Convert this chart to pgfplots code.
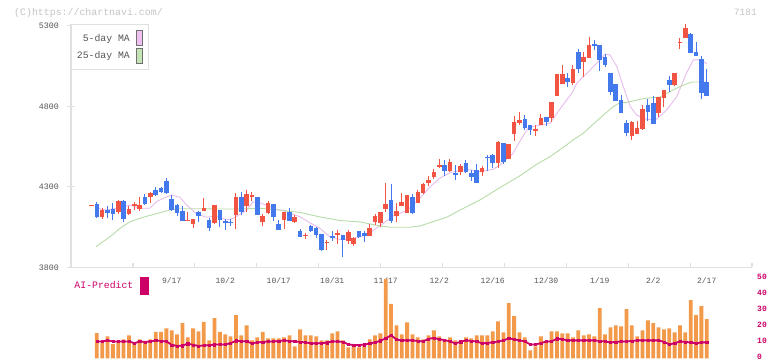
\documentclass[border=0pt]{standalone}
\usepackage{pgfplots}
\pgfplotsset{compat=1.18}
\usepackage{pgfplotstable}
\usepackage{fontspec}
\setmainfont{Liberation Mono}

\definecolor{cRed}{HTML}{F25443}
\definecolor{cBlue}{HTML}{4479EE}
\definecolor{cOrange}{HTML}{F2994A}
\definecolor{cMag}{HTML}{CC0066}
\definecolor{cPink}{HTML}{E8BCEE}
\definecolor{cPinkFill}{HTML}{F0C0F0}
\definecolor{cGreen}{HTML}{B8DCA8}
\definecolor{cGreenFill}{HTML}{C4E4B4}
\definecolor{cAxis}{HTML}{E0E0E0}
\definecolor{cText}{HTML}{555555}
\definecolor{cLight}{HTML}{C4C4C4}
\definecolor{cSwBorder}{HTML}{707070}

% up candles (close >= open)
\pgfplotstableread{
i o h l c
0 4184 4190 4184 4190
2 4115 4170 4100 4155
5 4145 4220 4135 4215
7 4130 4180 4128 4165
8 4180 4205 4155 4195
9 4165 4240 4150 4190
11 4235 4270 4200 4265
18 4092 4145 4090 4098
19 4070 4100 4045 4100
21 4150 4230 4150 4170
23 4075 4190 4070 4190
27 4125 4265 4040 4240
29 4180 4280 4145 4255
30 4240 4270 4215 4250
32 4085 4130 4060 4120
33 4140 4215 4130 4200
36 4095 4145 4040 4145
38 4085 4125 4075 4115
40 3997 4015 3980 4003
44 3955 3970 3910 3961
46 4000 4035 3945 4015
48 3965 4035 3945 4020
49 3945 3990 3935 3985
52 3995 4070 3995 4045
53 4085 4130 4065 4120
54 4075 4145 4050 4145
55 4165 4325 4145 4195
57 4120 4200 4085 4150
58 4180 4265 4180 4205
59 4140 4250 4140 4250
61 4200 4280 4200 4270
62 4265 4325 4255 4320
63 4325 4370 4305 4345
64 4360 4410 4350 4395
65 4425 4475 4420 4435
67 4400 4475 4395 4455
69 4395 4445 4375 4430
73 4395 4430 4370 4420
76 4450 4585 4420 4580
78 4475 4565 4475 4565
79 4630 4740 4585 4705
80 4695 4765 4685 4715
83 4651 4685 4615 4657
84 4685 4755 4685 4730
86 4730 4830 4705 4830
87 4865 5000 4865 5000
88 4940 5060 4940 5000
90 4945 5060 4935 5035
92 5075 5140 4985 5105
93 5100 5230 5100 5180
101 4615 4710 4590 4705
102 4630 4710 4630 4665
103 4660 4810 4655 4785
106 4760 4860 4735 4860
107 4855 4900 4795 4900
109 4935 5010 4925 5010
110 5197 5225 5155 5203
111 5225 5310 5225 5290
}\redtab

% down candles (close < open)
\pgfplotstableread{
i o h l c
1 4195 4205 4105 4115
3 4155 4180 4105 4140
4 4165 4200 4095 4130
6 4215 4220 4085 4100
10 4240 4255 4190 4195
12 4280 4300 4245 4250
13 4295 4300 4265 4270
14 4335 4355 4255 4265
15 4225 4250 4150 4155
16 4190 4195 4120 4140
17 4150 4180 4090 4090
20 4145 4150 4085 4120
22 4095 4105 4025 4045
24 4155 4155 4050 4095
25 4090 4100 4035 4075
26 4085 4100 4060 4075
28 4240 4270 4125 4145
31 4240 4240 4125 4125
34 4195 4195 4090 4115
35 4070 4095 4035 4035
37 4145 4170 4090 4090
39 4025 4040 3990 3990
41 4060 4065 4020 4025
42 4045 4050 3985 4000
43 4010 4010 3905 3910
45 3995 4025 3965 3985
47 4000 4000 3865 3970
50 4025 4025 3985 3990
51 4015 4025 3960 3995
56 4220 4320 4075 4090
60 4240 4255 4130 4140
66 4435 4470 4370 4400
68 4385 4435 4345 4375
70 4450 4470 4385 4395
71 4385 4405 4335 4360
72 4405 4445 4325 4325
74 4488 4500 4400 4482
75 4500 4505 4420 4450
77 4575 4575 4445 4455
81 4720 4745 4655 4665
82 4685 4685 4625 4655
85 4735 4735 4680 4705
89 4975 5010 4920 4950
91 5140 5155 5010 5035
94 5185 5215 5150 5179
95 5180 5180 5020 5090
96 5105 5125 5045 5060
97 5010 5010 4870 4890
98 4940 4940 4835 4835
99 4840 4870 4760 4760
100 4695 4715 4615 4635
104 4810 4845 4710 4765
105 4820 4865 4690 4690
108 4965 4990 4890 4935
112 5250 5255 5130 5130
113 5140 5200 5115 5115
114 5095 5115 4845 4885
115 4950 5035 4865 4865
}\bluetab

% 5-day moving average
\pgfplotstableread{
i v
1.0 4168
2.84 4157
5.33 4171
7.2 4188
9.07 4168
10.9 4168
12.2 4209
13.4 4230
15.0 4250
16.5 4236
17.8 4188
19.7 4132
21.5 4112
23.4 4120
25.3 4095
26.5 4105
29.0 4157
30.2 4207
31.5 4202
33.0 4182
34.6 4161
36.5 4146
39.0 4114
40.8 4078
42.7 4043
44.6 3989
46.4 3975
48.3 3975
51.4 4002
53.9 4058
56.4 4120
58.9 4153
61.4 4230
63.3 4302
65.1 4354
67.0 4389
70.1 4410
72.6 4395
75.1 4410
76.4 4437
78.8 4509
80.1 4586
81.6 4665
82.5 4675
84.1 4685
85.7 4696
87.9 4799
88.8 4840
89.8 4882
90.7 4944
91.6 4975
92.6 5006
95.05 5089
96.0 5126
96.9 5120
98.2 5047
99.4 4923
100.7 4799
101.9 4747
103.8 4720
105.6 4720
107.5 4778
109.4 4861
111.2 5006
112.5 5089
113.7 5089
115.0 5066
}\pinktab

% 25-day moving average
\pgfplotstableread{
i v
0.84 3930
3.46 3991
5.33 4043
7.2 4084
9.63 4112
12.8 4140
14.67 4157
16.5 4165
20.3 4165
24.0 4163
27.8 4163
31.5 4168
35.2 4157
38.97 4142
42.7 4114
46.4 4092
50.2 4083
53.9 4058
55.8 4050
59.5 4050
61.4 4058
63.8 4084
66.4 4112
68.9 4157
72.6 4219
76.4 4297
80.1 4370
83.2 4441
85.7 4488
88.8 4561
90.0 4592
91.9 4633
92.6 4654
95.05 4728
97.5 4799
98.8 4824
100.0 4824
102.5 4845
103.8 4851
106.3 4859
108.7 4902
110.0 4923
110.6 4932
112.2 4952
113.8 4952
115.0 4952
}\greentab

% volume and AI-Predict
\pgfplotstableread{
i v a
1 15.8 10.6
2 9.6 10.6
3 13.75 11.2
4 9.0 10.6
5 10.6 10.6
6 11.9 10.6
7 14.4 10.6
8 9.6 9.5
9 11.9 10.6
10 10.2 10.3
11 11.9 10.6
12 16.5 11.2
13 16.5 10.9
14 18.75 10.6
15 17.5 8.5
16 15 7.8
17 21.9 8.0
18 13.1 9.2
19 18.75 8.5
20 16.9 7.8
21 22.7 8.1
22 11.25 8.3
23 25 8.6
24 16.5 8.75
25 15 8.75
26 13.75 9.5
27 26.9 11.0
28 14.4 10.8
29 20.6 10.6
30 11.25 9.4
31 13.1 10.0
32 16.5 10.3
33 12.5 10.6
34 12.5 10.6
35 12.5 10.9
36 13.1 11.2
37 14.4 10.9
38 7.5 10.6
39 18.1 10.3
40 14.4 10.0
41 14.4 9.4
42 13.75 9.4
43 11.25 9.6
44 11.25 9.8
45 15.6 10.6
46 16.9 10.6
47 11.25 10.3
48 6.9 8.75
49 8.1 8.4
50 6.9 8.4
51 8.1 8.6
52 11.9 9.4
53 14.4 10.0
54 15.6 11.0
55 49.4 12.5
56 34 14.4
57 20.6 11.8
58 15 11.25
59 22.5 11.25
60 15 11.25
61 13.1 10.9
62 11.9 10.6
63 14.4 12.2
64 17.5 12.8
65 13.75 11.9
66 11.25 11.5
67 13.1 10.6
68 11.25 9.4
69 9.4 10.4
70 13.1 11.25
71 12.5 10.9
72 14.4 10.6
73 14.4 9.4
74 14.4 9.7
75 16.9 10.0
76 23.1 10.6
77 16.25 11.25
78 34.4 12.5
79 26.25 11.9
80 16.25 11.25
81 13.1 10.6
82 5 8.75
83 7.5 8.75
84 13.75 9.5
85 10.6 10.6
86 16.9 10.6
87 16.9 12.3
88 15.6 12.0
89 15.6 11.25
90 13.1 11.25
91 17.5 11.25
92 14.4 11.25
93 15 11.25
94 13.75 11.25
95 31.25 10.9
96 15 10.6
97 19.4 10.0
98 20.6 10.3
99 20 10.6
100 30.6 10.6
101 20.6 10.9
102 13.75 11.25
103 17.5 11.25
104 23.75 11.25
105 21.9 11.25
106 19.4 11.25
107 18.1 10.3
108 18.75 8.75
109 16.25 9.5
110 20.6 10.6
111 16.25 10.3
112 36.25 10.0
113 26.9 9.4
114 32.5 10.0
115 24.4 10.0
}\voltab

\begin{document}
\begin{tikzpicture}
\path[use as bounding box, fill=white] (0,0) rectangle (772bp,361bp);
\node[anchor=west, inner sep=0pt, text=cLight, font=\fontsize{9.9bp}{11bp}\selectfont] at (14bp,348.5bp) {(C)https://chartnavi.com/};
\node[anchor=east, inner sep=0pt, text=cLight, font=\fontsize{9.6bp}{11bp}\selectfont] at (757bp,348.5bp) {7181};

% tick marks of the date axis
\begin{axis}[
  at={(71bp,93.5bp)}, anchor=south west, scale only axis,
  width=681bp, height=243.5bp,
  xmin=-3.83, xmax=123.46, ymin=3800, ymax=5312,
  axis x line*=bottom, axis y line=none,
  axis line style={-, draw=none},
  tick align=inside, major tick length=4.5bp,
  xtick={7.76,19.33,30.90,42.47,54.04,65.61,77.18,88.75,100.32,111.89,123.46},
  xticklabels={},
  x tick style={draw=cAxis, line width=1.1bp},
  ytick=\empty,
]
\addplot[draw=none, mark=none, forget plot] coordinates {(0,3800)};
\end{axis}

\begin{axis}[
  at={(71bp,93.5bp)}, anchor=south west, scale only axis,
  width=681bp, height=243.5bp,
  xmin=-3.83, xmax=123.46, ymin=3800, ymax=5312,
  axis x line*=bottom, axis y line*=left,
  axis line style={-, draw=cAxis, line width=1.2bp},
  tick align=center, major tick length=8bp,
  ytick={3800,4300,4800,5300}, yticklabels={3800,4300,4800,5300},
  y tick style={draw=cAxis, line width=1bp},
  yticklabel style={anchor=east, inner sep=0pt, xshift=-8bp, font=\fontsize{8.3bp}{9bp}\selectfont, text=cText},
  xtick={15,25,35,45,55,65,75,85,95,105,115},
  xticklabels={9/17,10/2,10/17,10/31,11/17,12/2,12/16,12/30,1/19,2/2,2/17},
  x tick style={draw=none},
  xticklabel style={anchor=north, inner sep=0pt, yshift=-6bp, font=\fontsize{8bp}{9bp}\selectfont, text=cText},
  legend plot pos=right,
  legend style={at={(0,1)}, anchor=north west, draw=cAxis, line width=0.8bp, fill=white,
    inner xsep=5.5bp, inner ysep=6bp, row sep=1.7bp, column sep=6.6bp,
    font=\fontsize{9.8bp}{11bp}\selectfont, text=cText,
    nodes={inner sep=0pt}, cells={anchor=east}},
]
\addplot[cPink, line width=0.9bp, mark=none,
  legend image code/.code={\draw[draw=cSwBorder, fill=cPinkFill, line width=0.8bp] (0bp,-7.5bp) rectangle (6bp,7.5bp);}]
  table[x=i, y=v] {\pinktab};
\addlegendentry{5-day MA}
\addplot[cGreen, line width=0.9bp, mark=none,
  legend image code/.code={\draw[draw=cSwBorder, fill=cGreenFill, line width=0.8bp] (0bp,-7.5bp) rectangle (6bp,7.5bp);}]
  table[x=i, y=v] {\greentab};
\addlegendentry{25-day MA}

% wicks
\addplot[forget plot, draw=none, no markers,
  error bars/.cd, y dir=plus, y explicit, error mark=none,
  error bar style={draw=cRed, line width=1bp, solid}]
  table[x=i, y=l, y error plus expr={\thisrow{h}-\thisrow{l}}] {\redtab};
\addplot[forget plot, draw=none, no markers,
  error bars/.cd, y dir=plus, y explicit, error mark=none,
  error bar style={draw=cBlue, line width=1bp, solid}]
  table[x=i, y=l, y error plus expr={\thisrow{h}-\thisrow{l}}] {\bluetab};
% bodies
\addplot[forget plot, draw=none, no markers,
  error bars/.cd, y dir=both, y explicit, error mark=none,
  error bar style={draw=cRed, line width=4.6bp, solid}]
  table[x=i, y expr={(\thisrow{o}+\thisrow{c})/2}, y error expr={abs(\thisrow{c}-\thisrow{o})/2}] {\redtab};
\addplot[forget plot, draw=none, no markers,
  error bars/.cd, y dir=both, y explicit, error mark=none,
  error bar style={draw=cBlue, line width=4.6bp, solid}]
  table[x=i, y expr={(\thisrow{o}+\thisrow{c})/2}, y error expr={abs(\thisrow{c}-\thisrow{o})/2}] {\bluetab};
\end{axis}

\begin{axis}[
  at={(71bp,2.5bp)}, anchor=south west, scale only axis,
  width=681bp, height=80.5bp,
  xmin=-3.83, xmax=123.46, ymin=0, ymax=50,
  axis x line=none, axis y line*=right,
  y axis line style={draw=none},
  major tick length=0pt,
  ytick={0,10,20,30,40,50}, yticklabels={0,10,20,30,40,50},
  yticklabel style={anchor=west, inner sep=0pt, xshift=5bp, yshift=1.2bp, font=\bfseries\fontsize{8bp}{9bp}\selectfont, text=cMag},
  legend plot pos=right,
  legend style={at={(0.1141,1.016)}, anchor=north east, draw=none, fill=none,
    inner sep=0pt, column sep=7bp,
    font=\fontsize{9.8bp}{11bp}\selectfont, text=cMag,
    nodes={inner sep=0pt}, cells={anchor=east}},
]
\addplot[forget plot, ybar, bar width=3.8bp, bar shift=0pt, fill=cOrange, draw=none]
  table[x=i, y=v] {\voltab};
\addplot[cMag, line width=1.8bp, mark=square*, mark size=1.1bp,
  mark options={solid, fill=cMag, draw=cMag, line width=0.4bp},
  legend image code/.code={\fill[cMag] (0bp,-8bp) rectangle (6.4bp,8bp);}]
  table[x=i, y=a] {\voltab};
\addlegendentry{AI-Predict}
\end{axis}
\end{tikzpicture}
\end{document}
